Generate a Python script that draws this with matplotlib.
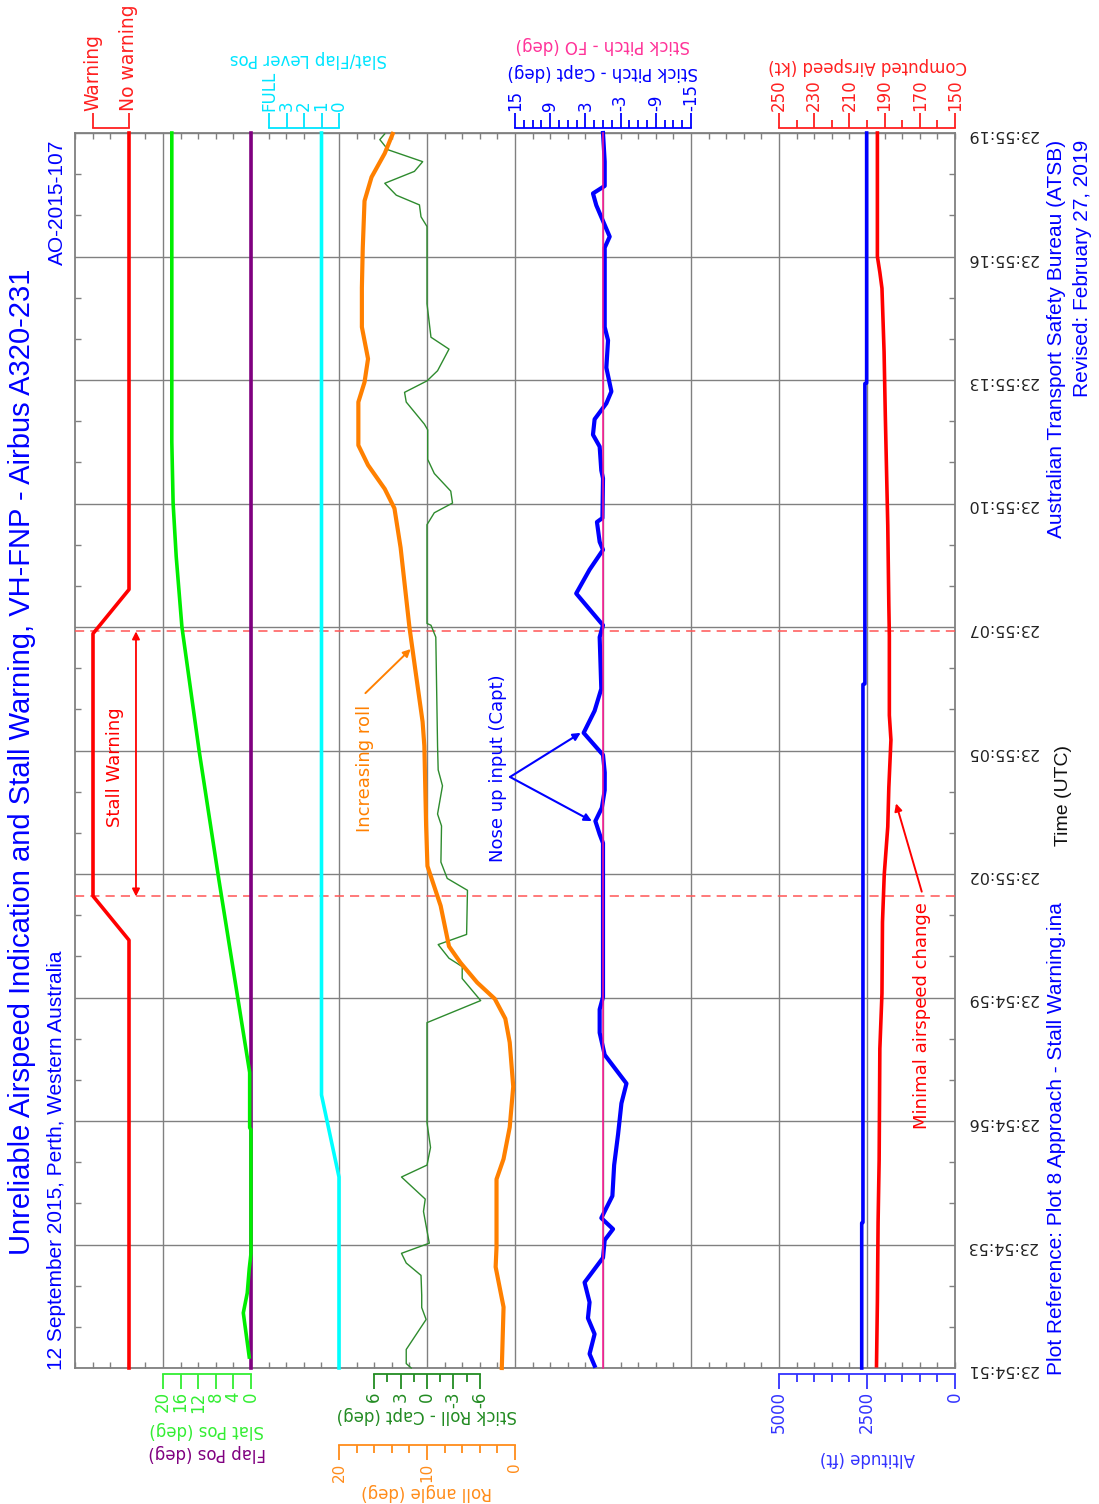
import matplotlib
matplotlib.use('Agg')
import matplotlib.pyplot as plt
from matplotlib.ticker import MultipleLocator
import numpy as np

W, H, DPI = 1099, 1504, 100
plt.rcParams['font.family'] = ['DejaVu Sans']

# ---------------- data ----------------
time_ticks = [0.0, 2.8, 5.6, 8.4, 11.2, 14.0, 16.8, 19.6, 22.4, 25.2, 28.0]
time_labels = ['23:54:51', '23:54:53', '23:54:56', '23:54:59', '23:55:02', '23:55:05',
               '23:55:07', '23:55:10', '23:55:13', '23:55:16', '23:55:19']

stall_times = [10.69, 16.70]

warn_t = [0.0, 9.7, 10.7, 16.65, 17.65, 28.0]
warn_state = [0, 0, 1, 1, 0, 0]

slat_t = [0.25, 1.25, 1.7, 2.25, 2.6, 5.4, 5.45, 6.7, 11.07, 14.0, 16.8, 18.4, 19.6, 21.0, 28.0]
slat_deg = [0.4, 1.75, 0.85, 0.4, 0.0, 0.0, 0.3, 0.3, 7.3, 11.8, 15.7, 17.0, 17.7, 18.0, 18.0]

flap_t = [0.0, 28.0]
flap_deg = [0.0, 0.0]

lever_t = [0.0, 4.33, 6.19, 28.0]
lever_pos = [0, 0, 1, 1]

roll_t = [0.0, 1.38, 2.29, 2.74, 4.28, 4.74, 5.46, 6.38, 7.38, 7.92, 8.37, 8.74, 9.19, 9.56,
          10.48, 11.38, 12.29, 14.1, 14.65, 15.72, 16.8, 18.6, 19.49, 19.93, 20.47, 20.92,
          21.9, 22.35, 22.88, 23.6, 24.49, 25.39, 26.46, 27.0, 27.54, 27.98]
roll_deg = [1.5, 1.3, 2.2, 2.1, 2.1, 1.3, 0.6, 0.2, 0.6, 1.1, 2.3, 4.3, 6.2, 7.5,
            8.45, 9.95, 10.1, 10.3, 10.5, 11.25, 12.0, 13.0, 13.7, 14.8, 16.7, 17.8,
            17.8, 17.1, 16.7, 17.4, 17.4, 17.3, 17.1, 16.3, 14.8, 13.9]

sroll_t = [0.0, 0.1, 0.42, 1.1, 1.37, 1.65, 2.1, 2.38, 2.6, 2.83, 3.55, 3.83, 4.33, 4.6,
           5.0, 5.56, 7.83, 8.33, 8.83, 9.1, 9.29, 9.6, 9.83, 10.83, 11.1, 11.47, 12.29,
           12.56, 13.2, 13.56, 14.1, 16.57, 16.84, 16.88, 19.12, 19.39, 19.61, 19.88,
           20.28, 20.6, 21.27, 21.4, 21.9, 22.12, 22.38, 22.61, 23.1, 23.37, 24.13,
           25.88, 26.1, 26.37, 26.59, 26.86, 27.13, 27.35, 27.62, 27.85, 27.98]
sroll_deg = [1.8, 2.36, 2.36, 0.1, 0.6, 0.6, 0.68, 2.36, 2.9, -0.26, 0.4, 0.2, 2.9, 0.0,
             -0.4, 0.0, 0.0, -6.1, -4.0, -4.0, -2.5, -1.27, -4.5, -4.6, -2.3, -1.58, -1.65,
             -1.2, -1.76, -1.27, -1.2, -1.0, -0.45, 0.0, 0.0, -0.83, -2.9, -2.7,
             -0.83, -0.08, -0.08, 0.3, 2.36, 2.55, 0.0, -1.2, -2.5, -0.45, 0.0,
             0.0, 0.68, 0.86, 3.49, 4.8, 1.43, 0.49, 4.43, 5.36, 4.8]

pitch_t = [0.05, 0.32, 0.77, 1.13, 1.49, 1.94, 2.5, 2.9, 3.15, 3.4, 3.9, 4.6, 5.3, 6.0,
           6.45, 7.1, 7.6, 8.13, 8.41, 11.9, 12.1, 12.4, 12.7, 13.1, 13.5, 13.9, 14.4,
           14.9, 15.4, 16.57, 16.84, 17.56, 18.1, 18.55, 18.73, 19.18, 19.27, 20.17,
           20.35, 20.89, 21.16, 21.51, 21.87, 22.14, 22.68, 23.3, 23.6, 25.4, 25.65,
           26.36, 26.63, 26.8, 27.35, 28.0]
pitch_capt = [1.43, 2.29, 1.43, 2.57, 2.29, 3.14, 0.0, -0.29, -1.71, 0.29, -1.6, -1.9, -2.57, -3.14,
              -4.0, -0.29, 0.57, 0.57, 0.0, 0.0, 0.57, 1.3, 0.2, -0.29, -0.3, 0.0, 3.3,
              1.43, 0.29, 0.57, 0.0, 4.57, 2.29, 0.0, 0.57, 1.03, 0.1, 0.0,
              0.29, 0.57, 1.71, 1.43, -0.57, -1.43, -0.57, -0.86, -0.29, -0.29, -1.14,
              1.14, 1.71, -0.29, -0.29, 0.0]

pitch_fo_t = [0.0, 28.0]
pitch_fo = [0.0, 0.0]

cas_t = [0.05, 1.49, 3.3, 4.72, 7.24, 8.49, 10.11, 11.19, 12.27, 13.16, 14.24, 14.8, 16.6,
         17.3, 19.1, 21.6, 23.04, 24.48, 24.84, 25.2, 28.0]
cas_kt = [194.6, 194.1, 193.7, 193.1, 192.7, 191.5, 191.2, 190.2, 188.2, 187.6, 186.4, 187.3, 187.3,
          187.6, 188.2, 189.6, 190.3, 191.5, 192.7, 194.1, 194.1]

alt_t = [0.0, 3.29, 3.3, 15.5, 15.51, 22.32, 22.33, 28.0]
alt_ft = [2650, 2650, 2615, 2615, 2560, 2560, 2510, 2510]

# ---------------- layout helpers ----------------
BOX_L, BOX_R, BOX_T, BOX_B = 75, 955, 133, 1368


def fx(x):
    return x / W


def fy(y):
    return 1 - y / H


def rect(x0, x1):
    return [fx(x0), fy(BOX_B), (x1 - x0) / W, (BOX_B - BOX_T) / H]


fig = plt.figure(figsize=(W / DPI, H / DPI), dpi=DPI)
fig.patch.set_facecolor('white')

GRID = '#808080'
base = fig.add_axes(rect(BOX_L, BOX_R))
base.set_xlim(0, 10)
base.set_ylim(0, 28)
base.set_xticks(np.arange(1, 10))
base.xaxis.set_minor_locator(MultipleLocator(0.2))
base.set_yticks(time_ticks)
base.set_yticklabels(time_labels)
base.yaxis.set_minor_locator(MultipleLocator(2.8 / 3))
base.grid(True, which='major', color=GRID, lw=1.0)
for s in base.spines.values():
    s.set_color(GRID)
    s.set_linewidth(1.3)
base.tick_params(axis='x', which='major', length=0, labelbottom=False)
base.tick_params(axis='x', which='minor', direction='in', top=True, bottom=True,
                 length=4.5, width=1.0, color=GRID)
base.tick_params(axis='y', which='major', left=False, right=True, length=0,
                 labelleft=False, labelright=True, labelrotation=180, pad=8,
                 labelsize=11.5, labelcolor='#222222')
base.tick_params(axis='y', which='minor', direction='in', left=True, right=True,
                 length=4.5, width=1.0, color=GRID)
for st in stall_times:
    base.axhline(st, color='#ff5555', lw=1.1, ls=(0, (6, 4)), zorder=3)


def make_track(x0, x1, xlim, side, offset_px, major, labels, minor, color,
               label_color=None, fs=12):
    a = fig.add_axes(rect(x0, x1))
    a.set_xlim(*xlim)
    a.set_ylim(0, 28)
    a.patch.set_alpha(0)
    for s in a.spines.values():
        s.set_visible(False)
    sp = a.spines[side]
    sp.set_visible(True)
    sp.set_position(('outward', offset_px * 72 / DPI))
    sp.set_color(color)
    sp.set_linewidth(1.3)
    a.xaxis.set_ticks_position(side)
    a.set_xticks(major)
    a.set_xticklabels(labels)
    a.set_xticks(minor, minor=True)
    a.tick_params(axis='x', which='major', direction='out', length=11, width=1.3,
                  color=color, labelcolor=label_color or color, labelsize=fs,
                  labelrotation=90, pad=1.5)
    a.tick_params(axis='x', which='minor', direction='out', length=5.5, width=1.3, color=color)
    a.set_yticks([])
    return a


LW = 2.6
# warning
ax_w = make_track(93, 129, (1, 0), 'top', 5, [1, 0], ['Warning', 'No warning'], [],
                  '#ff2020', fs=13.5)
ax_w.plot(warn_state, warn_t, color='#ff0000', lw=LW, clip_on=False)

# slat / flap
ax_s = make_track(163, 251, (20, 0), 'bottom', 6, [20, 16, 12, 8, 4, 0],
                  ['20', '16', '12', '8', '4', '0'], [], '#33ee33', fs=12)
ax_s.plot(flap_deg, flap_t, color='#800080', lw=LW, clip_on=False, zorder=2)
ax_s.plot(slat_deg, slat_t, color='#00ee00', lw=LW, clip_on=False, zorder=3)

# lever
ax_l = make_track(269, 339, (4, 0), 'top', 5, [4, 3, 2, 1, 0], ['FULL', '3', '2', '1', '0'], [],
                  '#00e5ff', fs=12)
ax_l.plot(lever_pos, lever_t, color='#00ffff', lw=LW, clip_on=False)

# stick roll
ax_sr = make_track(374.2, 479.8, (6, -6), 'bottom', 6, [6, 3, 0, -3, -6],
                   ['6', '3', '0', '-3', '-6'], [4.5, 1.5, -1.5, -4.5], '#228b22', fs=12)
ax_sr.plot(sroll_deg, sroll_t, color='#2e8b2e', lw=1.0, clip_on=False, zorder=2)

# roll angle
ax_r = make_track(339, 515, (20, 0), 'bottom', 77, [20, 10, 0], ['20', '10', '0'],
                  list(range(18, 10, -2)) + list(range(8, 0, -2)), '#ff8c1a', fs=11)
ax_r.plot(roll_deg, roll_t, color='#ff8000', lw=LW + 0.4, clip_on=False, zorder=3)

# stick pitch
ax_p = make_track(515, 691, (15, -15), 'top', 5, [15, 9, 3, -3, -9, -15],
                  ['15', '9', '3', '-3', '-9', '-15'],
                  [13.5, 12, 10.5, 7.5, 6, 4.5, 1.5, 0, -1.5, -4.5, -6, -7.5, -10.5, -12, -13.5],
                  '#0000ff', fs=12)
ax_p.plot(pitch_capt, pitch_t, color='#0000ff', lw=LW + 0.4, clip_on=False, zorder=2)
ax_p.plot(pitch_fo, pitch_fo_t, color='#ff1493', lw=1.1, clip_on=False, zorder=3)

# airspeed
ax_c = make_track(779, 955, (250, 150), 'top', 5, [250, 230, 210, 190, 170, 150],
                  ['250', '230', '210', '190', '170', '150'], [240, 220, 200, 180, 160],
                  '#ff2020', fs=12)
ax_c.plot(cas_kt, cas_t, color='#ff0000', lw=LW, clip_on=False)

# altitude
ax_a = make_track(779, 955, (5000, 0), 'bottom', 6, [5000, 2500, 0], ['5000', '2500', '0'],
                  [4500, 4000, 3500, 3000, 2000, 1500, 1000, 500], '#3333ff', fs=12)
ax_a.plot(alt_ft, alt_t, color='#0000ff', lw=LW, clip_on=False)

# ---------------- annotations ----------------
base.annotate('', xy=(0.693, stall_times[1]), xytext=(0.693, stall_times[0]),
              arrowprops=dict(arrowstyle='<|-|>', color='#ff0000', lw=1.3,
                              shrinkA=0, shrinkB=0, mutation_scale=11))
base.text(0.455, 13.63, 'Stall Warning', rotation=90, ha='center', va='center',
          color='#ff0000', fontsize=13)

ax_r.text(17.0, 13.6, 'Increasing roll', rotation=90, ha='center', va='center',
          color='#ff8000', fontsize=13, clip_on=False)
ax_r.annotate('', xy=(float(np.interp(16.3, roll_t, roll_deg)) + 0.2, 16.3), xytext=(17.0, 15.3),
              arrowprops=dict(arrowstyle='-|>', color='#ff8000', lw=1.4,
                              shrinkA=0, shrinkB=0, mutation_scale=11, clip_on=False),
              annotation_clip=False)

ax_p.text(17.9, 13.6, 'Nose up input (Capt)', rotation=90, ha='center', va='center',
          color='#0000ff', fontsize=13, clip_on=False)
for tip in [(3.8, 14.4), (1.9, 12.4)]:
    ax_p.annotate('', xy=tip, xytext=(15.85, 13.4),
                  arrowprops=dict(arrowstyle='-|>', color='#0000ff', lw=1.5,
                                  shrinkA=0, shrinkB=0, mutation_scale=11, clip_on=False),
                  annotation_clip=False)

ax_c.text(168.9, 8.0, 'Minimal airspeed change', rotation=90, ha='center', va='center',
          color='#ff0000', fontsize=13, clip_on=False)
ax_c.annotate('', xy=(183.5, 12.8), xytext=(168.9, 10.8),
              arrowprops=dict(arrowstyle='-|>', color='#ff0000', lw=1.4,
                              shrinkA=0, shrinkB=0, mutation_scale=11, clip_on=False),
              annotation_clip=False)


# ---------------- axis titles (upside down) ----------------
def ftext(x, y, s, color, fs=12, rot=180, **kw):
    fig.text(fx(x), fy(y), s, rotation=rot, ha=kw.pop('ha', 'center'),
             va=kw.pop('va', 'center'), color=color, fontsize=fs, **kw)


ftext(308, 59, 'Slat/Flap Lever Pos', '#00e5ff')
ftext(603, 45, 'Stick Pitch - FO (deg)', '#ff3399')
ftext(603, 72, 'Stick Pitch - Capt (deg)', '#0000ff')
ftext(868, 66, 'Computed Airspeed (kt)', '#ff2020')
ftext(207, 1430, 'Slat Pos (deg)', '#33ee33')
ftext(207, 1453, 'Flap Pos (deg)', '#800080')
ftext(427, 1415, 'Stick Roll - Capt (deg)', '#228b22')
ftext(427, 1492, 'Roll angle (deg)', '#ff8c1a')
ftext(867, 1458, 'Altitude (ft)', '#3333ff')

# ---------------- titles ----------------
TF = ['Liberation Sans', 'DejaVu Sans']
ftext(22, 762, 'Unreliable Airspeed Indication and Stall Warning, VH-FNP - Airbus A320-231',
      '#0000ff', fs=21, rot=90, family=TF)
fig.text(fx(57), fy(1370), '12 September 2015, Perth, Western Australia', rotation=90,
         ha='center', va='bottom', color='#0000ff', fontsize=15, family=TF)
fig.text(fx(57), fy(140), 'AO-2015-107', rotation=90, ha='center', va='top',
         color='#0000ff', fontsize=15, family=TF)
fig.text(fx(1057), fy(140), 'Australian Transport Safety Bureau (ATSB)', rotation=90,
         ha='center', va='top', color='#0000ff', fontsize=15, family=TF)
fig.text(fx(1083), fy(140), 'Revised: February 27, 2019', rotation=90,
         ha='center', va='top', color='#0000ff', fontsize=15, family=TF)
fig.text(fx(1057), fy(1375), 'Plot Reference: Plot 8 Approach - Stall Warning.ina', rotation=90,
         ha='center', va='bottom', color='#0000ff', fontsize=15, family=TF)
fig.text(fx(1063), fy(795), 'Time (UTC)', rotation=90, ha='center', va='center',
         color='#111111', fontsize=14, family=TF)

fig.savefig('out.png', dpi=DPI, facecolor='white')
